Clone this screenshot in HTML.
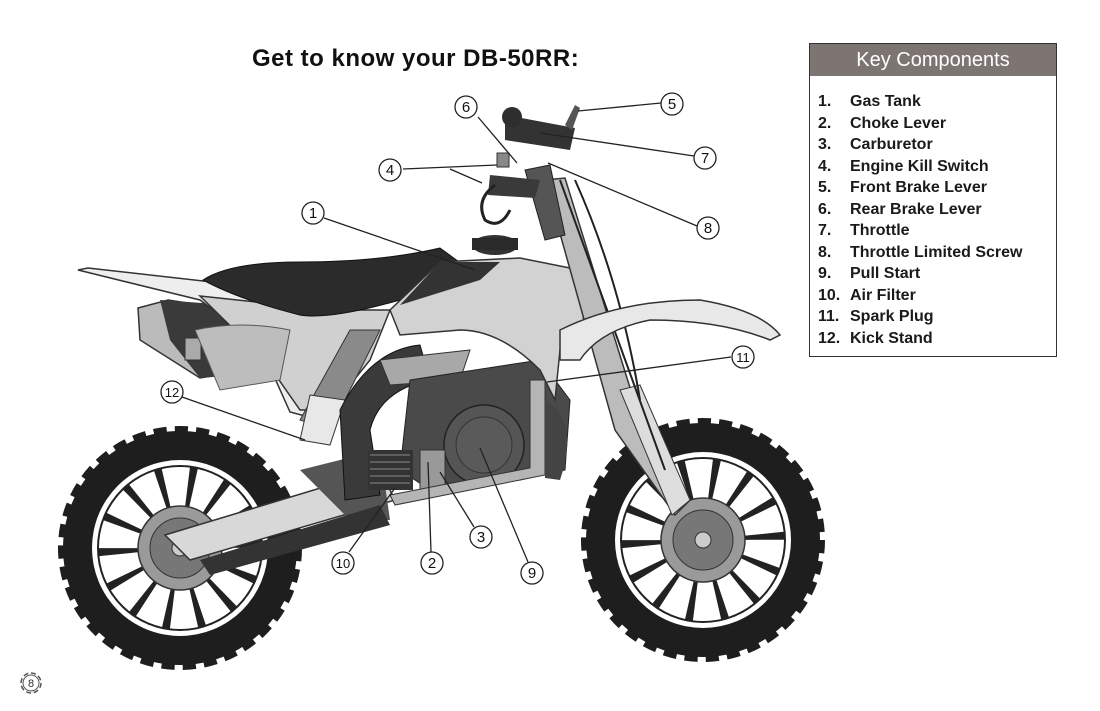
<!DOCTYPE html>
<html><head><meta charset="utf-8"><style>
html,body{margin:0;padding:0;background:#fff;}
body{width:1100px;height:711px;position:relative;overflow:hidden;font-family:"Liberation Sans",sans-serif;}
.title{position:absolute;left:252px;top:45px;font-size:24px;font-weight:bold;color:#111;letter-spacing:0.5px;}
.box{position:absolute;left:809px;top:43px;width:246px;height:312px;border:1.5px solid #333;background:#fff;}
.box .hd{background:#7d7571;color:#fff;font-size:20px;text-align:center;height:32px;line-height:33px;}
.box ul{list-style:none;margin:0;padding:15px 0 0 8px;font-size:16px;font-weight:bold;line-height:21.5px;color:#1a1a1a;}
.box li span{display:inline-block;width:32px;}
svg{position:absolute;left:0;top:0;}
</style></head><body>
<svg width="1100" height="711" viewBox="0 0 1100 711">
<defs>
<g id="wheel">
  <circle r="117" fill="#1e1e1e" stroke="#1e1e1e" stroke-width="10" stroke-dasharray="13 8"/>
  <circle r="112" fill="#1e1e1e"/>
  <circle r="88" fill="#fff"/>
  <circle r="83" fill="#222"/>
  <circle r="60" fill="none" stroke="#fff" stroke-width="42" stroke-dasharray="21 5.9"/>
  <circle r="42" fill="#9a9a9a" stroke="#333" stroke-width="1.5"/>
  <circle r="30" fill="#777" stroke="#333"/>
  <circle r="8" fill="#ccc" stroke="#333"/>
</g>
</defs>
<use href="#wheel" x="180" y="548"/>
<use href="#wheel" x="703" y="540"/>

<path d="M138 308 L168 300 L300 320 L310 360 L200 378 L140 340 Z" fill="#bbb" stroke="#333" stroke-width="1.5"/>
<path d="M160 300 L230 305 L300 330 L300 370 L200 378 L170 340 Z" fill="#3a3a3a"/>
<rect x="185" y="338" width="16" height="22" fill="#aaa" stroke="#333"/>

<path d="M78 270 L88 268 L300 292 L360 300 L340 350 L320 420 L290 412 L260 345 L200 300 Z" fill="#eee" stroke="#333" stroke-width="1.5"/>
<path d="M200 296 L330 310 L390 310 L370 360 L330 410 L300 410 L265 360 Z" fill="#d0d0d0" stroke="#333" stroke-width="1.5"/>
<path d="M195 330 Q240 320 290 330 L280 380 L220 390 Z" fill="#bdbdbd" stroke="#555"/>

<path d="M203 280 Q230 262 300 262 Q380 262 440 248 L470 270 L400 300 Q330 320 300 315 Q240 300 203 280 Z" fill="#2b2b2b" stroke="#111"/>
<path d="M300 420 L350 330 L380 330 L330 430 Z" fill="#8a8a8a" stroke="#333"/>
<path d="M310 395 L345 400 L330 445 L300 440 Z" fill="#e8e8e8" stroke="#333"/>
<path d="M165 535 L380 470 L395 500 L190 560 Z" fill="#d8d8d8" stroke="#333" stroke-width="1.5"/>
<path d="M300 470 L380 450 L390 520 L350 520 Z" fill="#555"/>
<path d="M200 560 L380 505 L390 525 L210 575 Z" fill="#333"/>
<path d="M340 410 Q370 350 420 345 L430 380 Q380 390 370 430 L380 495 L345 500 Z" fill="#3a3a3a" stroke="#111"/>
<path d="M380 360 L470 350 L460 380 L390 385 Z" fill="#a8a8a8" stroke="#333"/>
<path d="M410 380 L540 360 L570 400 L565 470 L520 480 L430 490 L400 470 Z" fill="#4a4a4a" stroke="#222"/>
<circle cx="484" cy="445" r="40" fill="#555" stroke="#222" stroke-width="1.5"/>
<circle cx="484" cy="445" r="28" fill="#5a5a5a" stroke="#333"/>
<rect x="368" y="450" width="45" height="40" fill="#333"/>
<path d="M370 455 h40 M370 462 h40 M370 469 h40 M370 476 h40 M370 483 h40" stroke="#888"/>
<rect x="420" y="450" width="25" height="40" fill="#999" stroke="#333"/>
<path d="M530 380 L545 380 L545 475 L395 505 L390 495 L530 468 Z" fill="#b5b5b5" stroke="#333"/>
<path d="M545 400 Q580 420 560 480 L545 478 Z" fill="#444"/>
<path d="M390 310 L440 262 L520 258 L580 270 L585 340 L560 350 L555 400 L540 370 Q500 330 460 330 L400 335 Z" fill="#d2d2d2" stroke="#333" stroke-width="1.5"/>
<path d="M440 262 L500 262 L480 280 L400 305 Z" fill="#333"/>
<ellipse cx="495" cy="245" rx="23" ry="10" fill="#333"/>
<rect x="472" y="238" width="46" height="12" fill="#2a2a2a"/>
<path d="M545 180 L565 178 L640 420 L690 500 L675 515 L615 430 Z" fill="#bcbcbc" stroke="#333" stroke-width="1.5"/>
<path d="M620 390 L640 385 L690 500 L672 515 Z" fill="#ddd" stroke="#333"/>
<path d="M575 180 Q620 280 640 400" stroke="#222" stroke-width="2" fill="none"/>
<path d="M560 180 Q600 290 665 470" stroke="#222" stroke-width="2" fill="none"/>
<path d="M560 330 Q620 300 700 300 Q760 310 780 335 L770 340 Q720 320 650 320 Q600 330 580 360 L560 360 Z" fill="#e8e8e8" stroke="#333" stroke-width="1.5"/>
<path d="M525 170 L550 165 L565 235 L545 240 Z" fill="#555" stroke="#222"/>
<path d="M505 115 L575 128 L570 150 L505 140 Z" fill="#333"/>
<circle cx="512" cy="117" r="10" fill="#2e2e2e"/>
<path d="M490 175 L540 180 L535 198 L488 195 Z" fill="#3a3a3a"/>
<path d="M565 125 L575 105 L580 108 L572 130 Z" fill="#555"/>
<path d="M495 185 Q475 200 485 220 Q500 230 510 210" fill="none" stroke="#222" stroke-width="3"/>
<rect x="497" y="153" width="12" height="14" fill="#888" stroke="#333"/>

<g stroke="#222" stroke-width="1.3" fill="none">
<line x1="478" y1="117" x2="517" y2="163"/>
<line x1="403" y1="169" x2="497" y2="165"/>
<line x1="450" y1="169" x2="482" y2="183"/>
<line x1="661" y1="103" x2="578" y2="111"/>
<line x1="694" y1="156" x2="540" y2="133"/>
<line x1="697" y1="226" x2="548" y2="163"/>
<line x1="324" y1="218" x2="475" y2="270"/>
<line x1="731" y1="357" x2="547" y2="382"/>
<line x1="182" y1="397" x2="305" y2="440"/>
<line x1="474" y1="527" x2="440" y2="472"/>
<line x1="528" y1="562" x2="480" y2="448"/>
<line x1="431" y1="552" x2="428" y2="462"/>
<line x1="349" y1="552" x2="395" y2="488"/>
</g>
<g font-family="Liberation Sans, sans-serif" font-size="15" text-anchor="middle" fill="#111">
<g fill="#fff" stroke="#222" stroke-width="1.3">
<circle cx="466" cy="107" r="11"/><circle cx="672" cy="104" r="11"/><circle cx="390" cy="170" r="11"/>
<circle cx="705" cy="158" r="11"/><circle cx="708" cy="228" r="11"/><circle cx="313" cy="213" r="11"/>
<circle cx="743" cy="357" r="11"/><circle cx="172" cy="392" r="11"/><circle cx="481" cy="537" r="11"/>
<circle cx="343" cy="563" r="11"/><circle cx="432" cy="563" r="11"/><circle cx="532" cy="573" r="11"/>
</g>
<text x="466" y="112">6</text><text x="672" y="109">5</text><text x="390" y="175">4</text>
<text x="705" y="163">7</text><text x="708" y="233">8</text><text x="313" y="218">1</text>
<text x="743" y="362" font-size="13">11</text><text x="172" y="397" font-size="13">12</text><text x="481" y="542">3</text>
<text x="343" y="568" font-size="13">10</text><text x="432" y="568">2</text><text x="532" y="578">9</text>
</g>
<g transform="translate(31,683)">
<circle r="10" fill="none" stroke="#555" stroke-width="1.5" stroke-dasharray="5 2.8"/>
<circle r="8" fill="#fff" stroke="#555" stroke-width="1"/>
<text y="4" font-size="11" text-anchor="middle" font-family="Liberation Sans, sans-serif" fill="#333">8</text>
</g>
</svg>
<div class="title">Get to know your DB-50RR:</div>
<div class="box"><div class="hd">Key Components</div>
<ul>
<li><span>1.</span>Gas Tank</li>
<li><span>2.</span>Choke Lever</li>
<li><span>3.</span>Carburetor</li>
<li><span>4.</span>Engine Kill Switch</li>
<li><span>5.</span>Front Brake Lever</li>
<li><span>6.</span>Rear Brake Lever</li>
<li><span>7.</span>Throttle</li>
<li><span>8.</span>Throttle Limited Screw</li>
<li><span>9.</span>Pull Start</li>
<li><span>10.</span>Air Filter</li>
<li><span>11.</span>Spark Plug</li>
<li><span>12.</span>Kick Stand</li>
</ul></div>
</body></html>
